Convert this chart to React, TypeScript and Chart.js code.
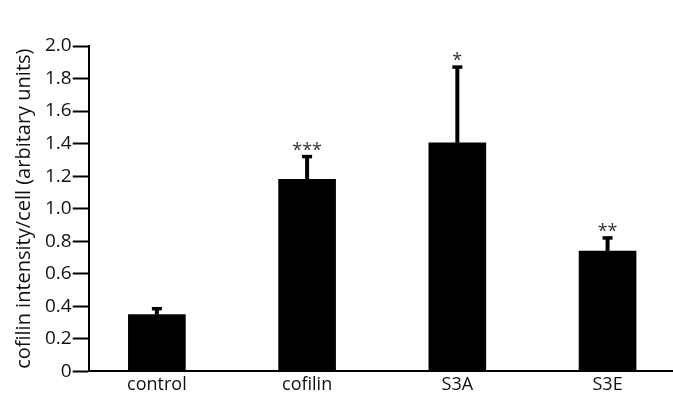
import React, { useEffect, useRef } from "react";
import { Chart, registerables } from "chart.js";

Chart.register(...registerables);

const categories = ["control", "cofilin", "S3A", "S3E"];
const means = [0.35, 1.18, 1.405, 0.74];
const upperErrors = [0.04, 0.145, 0.47, 0.085];
const significance = ["", "***", "*", "**"];
const yTickValues = [0, 0.2, 0.4, 0.6, 0.8, 1.0, 1.2, 1.4, 1.6, 1.8, 2.0];

const FONT = "'Open Sans', sans-serif";

const errorBarPlugin = {
  id: "errorBars",
  afterDatasetsDraw(chart: any) {
    const ctx = chart.ctx;
    const xs = chart.scales.x;
    const ys = chart.scales.y;
    ctx.save();
    categories.forEach((_, i) => {
      const x = xs.getPixelForValue(i);
      const yBar = ys.getPixelForValue(means[i]);
      const yTop = ys.getPixelForValue(means[i] + upperErrors[i]);
      ctx.strokeStyle = "#000";
      ctx.lineWidth = 4;
      ctx.beginPath();
      ctx.moveTo(x, yBar);
      ctx.lineTo(x, yTop);
      ctx.stroke();
      ctx.fillStyle = "#000";
      ctx.fillRect(x - 5, yTop - 1, 10, 3.5);
      if (significance[i]) {
        ctx.fillStyle = "#333";
        ctx.font = `18px ${FONT}`;
        ctx.textAlign = "center";
        ctx.textBaseline = "middle";
        ctx.fillText(significance[i], x, yTop - 5);
      }
    });
    ctx.restore();
  },
};

export default function App() {
  const ref = useRef<HTMLCanvasElement>(null);
  useEffect(() => {
    if (!ref.current) return;
    const chart = new Chart(ref.current, {
      type: "bar",
      data: {
        datasets: [
          {
            data: categories.map((_, i) => ({ x: i, y: means[i] })),
            backgroundColor: "#000",
            borderColor: "#000",
            borderWidth: 0,
            barThickness: 57,
          },
        ],
      },
      options: {
        animation: false,
        responsive: false,
        maintainAspectRatio: false,
        layout: { padding: { top: 46, right: 0, left: 12, bottom: 1 } },
        plugins: {
          legend: { display: false },
          tooltip: { enabled: false },
        },
        scales: {
          x: {
            type: "linear",
            offset: false,
            min: -0.4536,
            max: 3.4356,
            afterBuildTicks: (scale: any) => {
              scale.ticks = categories.map((_, i) => ({ value: i }));
            },
            ticks: {
              callback: (v: any) => categories[v] ?? "",
              color: "#111",
              font: { family: FONT, size: 18 },
              padding: 3,
              maxRotation: 0,
              autoSkip: false,
            },
            grid: { display: false, drawTicks: false },
            border: { display: true, color: "#000", width: 2 },
          },
          y: {
            min: 0,
            max: 2.0,
            afterBuildTicks: (scale: any) => {
              scale.ticks = yTickValues.map((v) => ({ value: v }));
            },
            ticks: {
              callback: (v: any) => (v === 0 ? "0" : Number(v).toFixed(1)),
              color: "#111",
              font: { family: FONT, size: 19 },
              padding: 1,
            },
            grid: {
              drawOnChartArea: false,
              drawTicks: true,
              tickLength: 16,
              tickWidth: 2,
              color: "#000",
            },
            border: { display: true, color: "#000", width: 2 },
            title: {
              display: true,
              text: "cofilin intensity/cell (arbitary units)",
              color: "#111",
              font: { family: FONT, size: 20 },
              padding: { top: 0, bottom: 8 },
            },
          },
        },
      },
      plugins: [errorBarPlugin],
    });
    return () => chart.destroy();
  }, []);
  return (
    <div style={{ position: "absolute", left: 0, top: 0, width: 673, height: 400, background: "#fff" }}>
      <canvas ref={ref} width={673} height={400} style={{ width: 673, height: 400 }} />
    </div>
  );
}
